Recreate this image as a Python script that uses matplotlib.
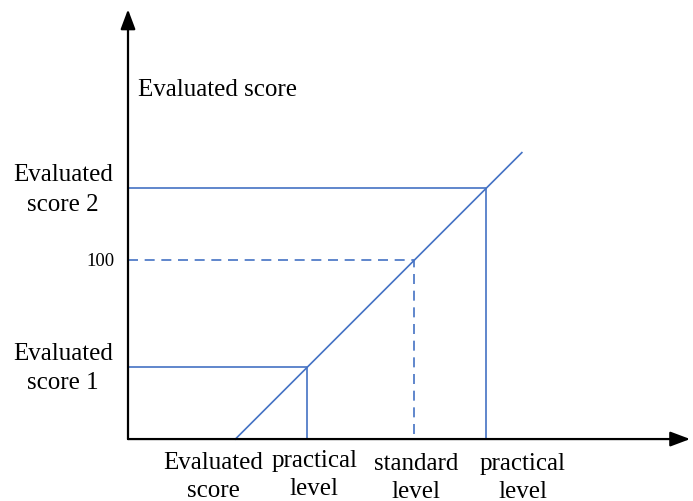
import matplotlib
matplotlib.use("Agg")
import matplotlib.pyplot as plt

## values in chart units (origin at the axis corner)
line_x = [60, 220]
line_y = [0, 160]

score1 = 40
level1 = 100
std_score = 100
std_level = 160
score2 = 140
level2 = 200

x_labels = ["Evaluated\nscore", "practical\nlevel", "standard\nlevel", "practical\nlevel"]
x_label_pos = [47.5, 104, 161, 220.5]
x_label_y = [-20.5, -19.5, -21, -21]
y_labels = ["Evaluated\nscore 2", "Evaluated\nscore 1"]
y_label_pos = [139.5, 40]

blue = "#4472C4"
plt.rcParams["font.family"] = ["Liberation Serif", "DejaVu Serif"]

fig = plt.figure(figsize=(6.93, 5.02), dpi=100)
ax = fig.add_axes([0, 0, 1, 1])
ax.set_xlim(-71.5, 315.6)
ax.set_ylim(-34.6, 245.8)
ax.axis("off")

## axes with arrow heads
arrow = dict(arrowstyle="-|>,head_length=1.2,head_width=0.45", color="black", lw=1.6,
             shrinkA=0, shrinkB=0)
ax.annotate("", xy=(314, 0), xytext=(0, 0), arrowprops=arrow)
ax.annotate("", xy=(0, 240), xytext=(0, 0), arrowprops=arrow)

## diagonal line
ax.plot(line_x, line_y, color=blue, lw=1.2)

## solid guides
ax.plot([0, level1, level1], [score1, score1, 0], color=blue, lw=1.2)
ax.plot([0, level2, level2], [score2, score2, 0], color=blue, lw=1.2)
## dashed guides
ax.plot([0, std_level, std_level], [std_score, std_score, 0], color=blue, lw=1.2,
        dashes=(6, 4))

ax.text(5.5, 195.5, "Evaluated score", fontsize=18, ha="left", va="center")
ax.text(-7.3, std_score, "100", fontsize=13.5, ha="right", va="center")
for lab, yy in zip(y_labels, y_label_pos):
    ax.text(-36.3, yy, lab, fontsize=18, ha="center", va="center", linespacing=1.45)
for lab, xx, yy in zip(x_labels, x_label_pos, x_label_y):
    ax.text(xx, yy, lab, fontsize=18, ha="center", va="center", linespacing=1.35)

fig.savefig("out.png", dpi=100)
